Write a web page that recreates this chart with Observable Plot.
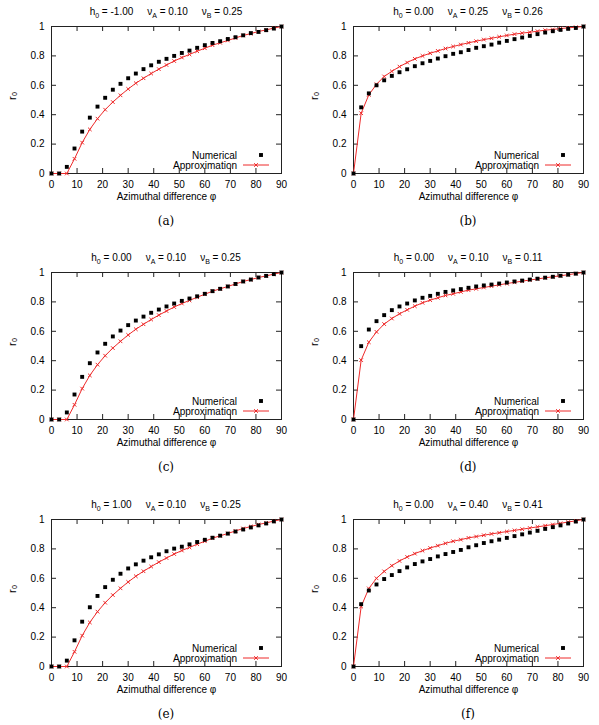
<!DOCTYPE html>
<html>
<head>
<meta charset="utf-8">
<script src="https://cdn.jsdelivr.net/npm/d3@7"></script>
<script src="https://cdn.jsdelivr.net/npm/@observablehq/plot@0.6"></script>
<style>
  body { margin: 0; background: #fff; }
  #fig { position: relative; width: 599px; height: 725px; background: #fff;
         font-family: "Liberation Sans", Arial, Helvetica, sans-serif; color: #000; }
  .panel { position: absolute; width: 300px; height: 246px; }
  .panel svg { position: absolute; left: 0; top: 0; }
  .title { position: absolute; top: 6px; left: 51px; width: 230px; text-align: center;
           font-size: 10px; line-height: 12px; white-space: nowrap; z-index: 2; }
  .title sub { font-size: 7px; line-height: 0; }
  .title .gap { display: inline-block; width: 14px; }
  .cap { position: absolute; top: 214px; left: 51px; width: 230px; text-align: center;
         font-family: "DejaVu Serif", "Liberation Serif", serif; font-size: 12px; line-height: 14px; }
</style>
</head>
<body>
<div id="fig"></div>
<script>
// Azimuthal difference (degrees) at which r0 was evaluated
const phi = [0, 3, 6, 9, 12, 15, 18, 21, 24, 27, 30, 33, 36, 39, 42, 45, 48, 51, 54, 57, 60, 63, 66, 69, 72, 75, 78, 81, 84, 87, 90];

// (a) h0 = -1.00, nuA = 0.10, nuB = 0.25
const numA = [0, 0, 0.045, 0.17, 0.285, 0.38, 0.455, 0.515, 0.57, 0.61, 0.648, 0.68, 0.71, 0.736, 0.76, 0.78, 0.80, 0.82, 0.836, 0.855, 0.873, 0.888, 0.90, 0.915, 0.927, 0.94, 0.955, 0.963, 0.975, 0.986, 1];
const apxA = [0, 0, 0, 0.10, 0.21, 0.30, 0.373, 0.434, 0.486, 0.532, 0.575, 0.614, 0.648, 0.68, 0.71, 0.738, 0.765, 0.789, 0.81, 0.832, 0.852, 0.873, 0.889, 0.905, 0.922, 0.939, 0.952, 0.966, 0.977, 0.989, 1];

// (b) h0 = 0.00, nuA = 0.25, nuB = 0.26
const numB = [0, 0.45, 0.545, 0.60, 0.634, 0.664, 0.689, 0.709, 0.73, 0.75, 0.766, 0.782, 0.798, 0.814, 0.825, 0.84, 0.855, 0.866, 0.877, 0.89, 0.902, 0.914, 0.925, 0.936, 0.948, 0.959, 0.968, 0.977, 0.984, 0.99, 1];
const apxB = [0, 0.41, 0.535, 0.607, 0.66, 0.695, 0.727, 0.755, 0.78, 0.80, 0.818, 0.834, 0.85, 0.864, 0.877, 0.889, 0.90, 0.911, 0.92, 0.93, 0.939, 0.948, 0.955, 0.961, 0.968, 0.975, 0.98, 0.986, 0.991, 0.995, 1];

// (c) h0 = 0.00, nuA = 0.10, nuB = 0.25
const numC = [0, 0, 0.048, 0.17, 0.29, 0.383, 0.456, 0.515, 0.565, 0.605, 0.642, 0.673, 0.70, 0.726, 0.748, 0.769, 0.789, 0.807, 0.823, 0.838, 0.855, 0.873, 0.889, 0.905, 0.922, 0.939, 0.952, 0.966, 0.977, 0.989, 1];
const apxC = [0, 0, 0, 0.10, 0.21, 0.30, 0.373, 0.434, 0.486, 0.532, 0.575, 0.614, 0.648, 0.68, 0.71, 0.738, 0.765, 0.789, 0.81, 0.832, 0.852, 0.873, 0.889, 0.905, 0.922, 0.939, 0.952, 0.966, 0.977, 0.989, 1];

// (d) h0 = 0.00, nuA = 0.10, nuB = 0.11
const numD = [0, 0.499, 0.612, 0.669, 0.71, 0.744, 0.769, 0.789, 0.81, 0.828, 0.841, 0.855, 0.868, 0.878, 0.887, 0.896, 0.905, 0.912, 0.918, 0.925, 0.932, 0.939, 0.945, 0.952, 0.958, 0.965, 0.971, 0.978, 0.985, 0.992, 1];
const apxD = [0, 0.404, 0.526, 0.596, 0.649, 0.687, 0.719, 0.746, 0.771, 0.794, 0.812, 0.828, 0.844, 0.855, 0.868, 0.88, 0.889, 0.898, 0.907, 0.916, 0.925, 0.933, 0.941, 0.949, 0.956, 0.964, 0.971, 0.978, 0.985, 0.993, 1];

// (e) h0 = 1.00, nuA = 0.10, nuB = 0.25
const numE = [0, 0, 0.04, 0.178, 0.305, 0.403, 0.48, 0.54, 0.59, 0.631, 0.667, 0.695, 0.72, 0.743, 0.763, 0.784, 0.802, 0.815, 0.831, 0.847, 0.862, 0.876, 0.89, 0.904, 0.918, 0.932, 0.946, 0.96, 0.973, 0.987, 1];
const apxE = [0, 0, 0, 0.10, 0.21, 0.30, 0.373, 0.434, 0.486, 0.532, 0.575, 0.614, 0.648, 0.68, 0.71, 0.738, 0.765, 0.789, 0.81, 0.832, 0.852, 0.873, 0.889, 0.905, 0.922, 0.939, 0.952, 0.966, 0.977, 0.989, 1];

// (f) h0 = 0.00, nuA = 0.40, nuB = 0.41
const numF = [0, 0.424, 0.517, 0.558, 0.595, 0.622, 0.649, 0.674, 0.697, 0.715, 0.731, 0.749, 0.765, 0.779, 0.793, 0.811, 0.825, 0.84, 0.852, 0.863, 0.875, 0.887, 0.899, 0.911, 0.923, 0.936, 0.948, 0.96, 0.973, 0.986, 1];
const apxF = [0, 0.408, 0.531, 0.60, 0.647, 0.686, 0.718, 0.745, 0.768, 0.788, 0.806, 0.822, 0.838, 0.852, 0.863, 0.875, 0.884, 0.893, 0.902, 0.91, 0.918, 0.926, 0.934, 0.942, 0.95, 0.958, 0.966, 0.974, 0.983, 0.991, 1];

// Panel parameters and labels
const captions = ["(a)", "(b)", "(c)", "(d)", "(e)", "(f)"];
const h0Labels = ["-1.00", "0.00", "0.00", "0.00", "1.00", "0.00"];
const nuALabels = ["0.10", "0.25", "0.10", "0.10", "0.10", "0.40"];
const nuBLabels = ["0.25", "0.26", "0.25", "0.11", "0.25", "0.41"];
const xTicks = [0, 10, 20, 30, 40, 50, 60, 70, 80, 90];
const yTicks = [0, 0.2, 0.4, 0.6, 0.8, 1];
const seriesNames = ["Numerical", "Approximation"];
const xLabel = "Azimuthal difference \u03c6";
const yLabel = "r\u2080";

const numerical = [numA, numB, numC, numD, numE, numF];
const approximation = [apxA, apxB, apxC, apxD, apxE, apxF];

const RED = "#ee2a2a";
const W = 300, H = 210, mT = 26, mB = 37, mL = 51, mR = 19;
const fw = W - mL - mR, fh = H - mT - mB;
const tickLen = 5;
const squareR = 2.2, timesR = 1.8;

// Key in the lower right corner of each frame
function key(index, scales, values, dims) {
  const xr = dims.width - dims.marginRight;
  const yb = dims.height - dims.marginBottom;
  const g = d3.create("svg:g");
  const rows = [
    {label: seriesNames[0], y: yb - 18},
    {label: seriesNames[1], y: yb - 8}
  ];
  g.selectAll("text").data(rows).join("text")
    .attr("x", xr - 44).attr("y", d => d.y)
    .attr("text-anchor", "end").attr("dy", "0.35em")
    .attr("fill", "currentColor")
    .text(d => d.label);
  g.append("path")
    .attr("transform", `translate(${xr - 20},${yb - 18})`)
    .attr("d", d3.symbol(d3.symbolSquare, squareR * squareR * Math.PI)())
    .attr("fill", "black");
  g.append("line")
    .attr("x1", xr - 38).attr("x2", xr - 12)
    .attr("y1", yb - 8).attr("y2", yb - 8)
    .attr("stroke", RED).attr("stroke-width", 1);
  g.append("path")
    .attr("transform", `translate(${xr - 25},${yb - 8})`)
    .attr("d", d3.symbol(d3.symbolTimes, timesR * timesR * Math.PI)())
    .attr("fill", "none").attr("stroke", RED).attr("stroke-width", 1);
  return g.node();
}

const fig = document.getElementById("fig");
const lefts = [0, 302];
const tops = [0, 246, 493];

captions.forEach((cap, i) => {
  const rows = phi.map((p, j) => ({phi: p, num: numerical[i][j], apx: approximation[i][j]}));

  const panel = document.createElement("div");
  panel.className = "panel";
  panel.style.left = lefts[i % 2] + "px";
  panel.style.top = tops[Math.floor(i / 2)] + "px";

  const chart = Plot.plot({
    width: W, height: H,
    marginTop: mT, marginBottom: mB, marginLeft: mL, marginRight: mR,
    style: {fontFamily: '"Liberation Sans", Arial, Helvetica, sans-serif', fontSize: "10px", color: "#000", background: "transparent"},
    x: {domain: [0, 90], ticks: xTicks, tickSize: 0, tickPadding: 7, tickFormat: d => String(d), label: null},
    y: {domain: [0, 1], ticks: yTicks, tickSize: 0, tickPadding: 7, tickFormat: d => String(d), label: null},
    marks: [
      // inward ticks on all four sides
      Plot.tickX(xTicks, {x: d => d, insetTop: fh - tickLen, stroke: "#222"}),
      Plot.tickX(xTicks, {x: d => d, insetBottom: fh - tickLen, stroke: "#222"}),
      Plot.tickY(yTicks, {y: d => d, insetRight: fw - tickLen, stroke: "#222"}),
      Plot.tickY(yTicks, {y: d => d, insetLeft: fw - tickLen, stroke: "#222"}),
      Plot.frame({stroke: "#222"}),
      Plot.line(rows, {x: "phi", y: "apx", stroke: RED, strokeWidth: 1}),
      Plot.dot(rows, {x: "phi", y: "apx", symbol: "times", r: timesR, stroke: RED, strokeWidth: 1}),
      Plot.dot(rows, {x: "phi", y: "num", symbol: "square", r: squareR, fill: "black", stroke: null}),
      Plot.text([xLabel], {text: d => d, frameAnchor: "bottom", dy: 26}),
      Plot.text([yLabel], {text: d => d, frameAnchor: "left", dx: -39, rotate: -90, fontSize: 11}),
      key
    ]
  });
  panel.appendChild(chart);

  const title = document.createElement("div");
  title.className = "title";
  title.innerHTML = `h<sub>0</sub> = ${h0Labels[i]}<span class="gap"></span>\u03bd<sub>A</sub> = ${nuALabels[i]}<span class="gap"></span>\u03bd<sub>B</sub> = ${nuBLabels[i]}`;
  panel.appendChild(title);

  const c = document.createElement("div");
  c.className = "cap";
  c.textContent = cap;
  panel.appendChild(c);

  fig.appendChild(panel);
});
</script>
</body>
</html>
